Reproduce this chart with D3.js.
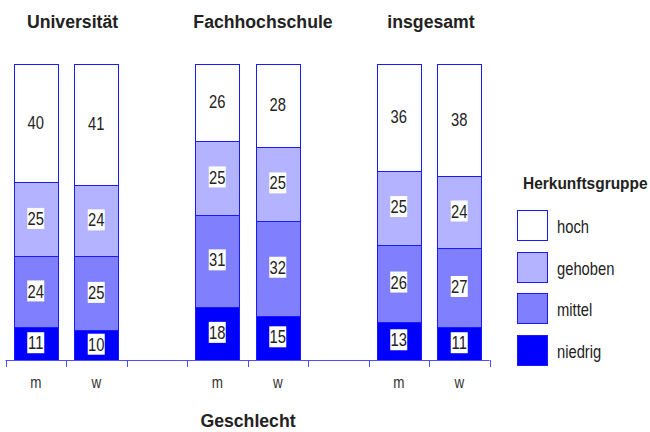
<!DOCTYPE html>
<html>
<head>
<meta charset="utf-8">
<script src="https://cdn.jsdelivr.net/npm/d3@7"></script>
<style>
  body { margin: 0; background: white; }
  text { font-family: "Liberation Sans", Arial, sans-serif; fill: #222; }
</style>
</head>
<body>
<div id="chart"></div>
<script>
// Herkunftsgruppe nach Hochschulart und Geschlecht (Anteile in %)
var groups = ["Universität", "Fachhochschule", "insgesamt"];
var sexes = ["m", "w"];
var categories = ["niedrig", "mittel", "gehoben", "hoch"];
var niedrig = [11, 10, 18, 15, 13, 11];
var mittel = [24, 25, 31, 32, 26, 27];
var gehoben = [25, 24, 25, 25, 25, 24];
var hoch = [40, 41, 26, 28, 36, 38];

var colors = { niedrig: "#0000ff", mittel: "#8080ff", gehoben: "#b3b3ff", hoch: "#ffffff" };

var width = 650, height = 432;

var svg = d3.select("#chart")
    .append("svg")
    .attr("width", width)
    .attr("height", height);

// narrow-looking text: squeeze horizontally around its anchor
function narrow(sel, x, y, sx) {
    return sel.attr("transform", "translate(" + x + "," + y + ") scale(" + sx + ",1)");
}

// slots: m, w, gap, m, w, gap, m, w
var slots = [];
groups.forEach(function(g, i) {
    sexes.forEach(function(s) { slots.push(g + "|" + s); });
    if (i < groups.length - 1) slots.push("gap" + i);
});

var x = d3.scaleBand()
    .domain(slots)
    .range([5.5, 489.5])
    .padding(0);

var y = d3.scaleLinear()
    .domain([0, 100])
    .range([360, 64]);

var barW = 44;

// build rows
var rows = [];
var k = 0;
groups.forEach(function(g) {
    sexes.forEach(function(s) {
        rows.push({ key: g + "|" + s, niedrig: niedrig[k], mittel: mittel[k], gehoben: gehoben[k], hoch: hoch[k] });
        k++;
    });
});

var stacked = d3.stack().keys(categories)(rows);

var layer = svg.append("g")
    .selectAll("g")
    .data(stacked)
    .enter().append("g")
    .attr("fill", function(d) { return colors[d.key]; });

layer.selectAll("rect")
    .data(function(d) { return d; })
    .enter().append("rect")
    .attr("x", function(d) { return Math.round(x(d.data.key) + (x.bandwidth() - barW) / 2) + 0.5; })
    .attr("y", function(d) { return Math.round(y(d[1])) + 0.5; })
    .attr("width", barW)
    .attr("height", function(d) { return Math.round(y(d[0])) - Math.round(y(d[1])); })
    .attr("stroke", "#1a1aff")
    .attr("stroke-width", 1);

// value labels with white boxes
var labels = svg.append("g");
stacked.forEach(function(series) {
    series.forEach(function(d) {
        var cx = x(d.data.key) + x.bandwidth() / 2;
        var cy = (y(d[0]) + y(d[1])) / 2 - 1;
        var v = d[1] - d[0];
        labels.append("rect")
            .attr("x", cx - 8.5)
            .attr("y", cy - 10.5)
            .attr("width", 17)
            .attr("height", 21)
            .attr("fill", "white");
        labels.append("text")
            .call(narrow, cx, cy + 6.6, 0.82)
            .attr("text-anchor", "middle")
            .style("font-size", "18px")
            .text(v);
    });
});

// axis
var axis = svg.append("g");
axis.append("line")
    .attr("x1", x.range()[0]).attr("x2", x.range()[1])
    .attr("y1", 360.5).attr("y2", 360.5)
    .attr("stroke", "#4d4dff");
var ticks = slots.map(function(s) { return x(s); }).concat([x.range()[1]]);
axis.selectAll("line.tick")
    .data(ticks)
    .enter().append("line")
    .attr("class", "tick")
    .attr("x1", function(d) { return Math.round(d) + 0.5; })
    .attr("x2", function(d) { return Math.round(d) + 0.5; })
    .attr("y1", 360).attr("y2", 367)
    .attr("stroke", "#4d4dff");

axis.selectAll("text")
    .data(rows)
    .enter().append("text")
    .each(function(d) {
        narrow(d3.select(this), x(d.key) + x.bandwidth() / 2, 388, 0.84);
    })
    .attr("text-anchor", "middle")
    .style("font-size", "16px")
    .style("fill", "#333")
    .text(function(d) { return d.key.split("|")[1]; });

// group titles
var titleX = [72.5, 263, 431];
svg.selectAll("text.title")
    .data(groups)
    .enter().append("text")
    .attr("class", "title")
    .each(function(d, i) { narrow(d3.select(this), titleX[i], 28, 0.93); })
    .attr("text-anchor", "middle")
    .style("font-size", "19px")
    .style("font-weight", "bold")
    .text(function(d) { return d; });

svg.append("text")
    .call(narrow, 248, 427, 0.93)
    .attr("text-anchor", "middle")
    .style("font-size", "19px")
    .style("font-weight", "bold")
    .text("Geschlecht");

// legend
var legend = svg.append("g").attr("transform", "translate(517,0)");
legend.append("text")
    .call(narrow, 6, 189, 0.91)
    .style("font-size", "17px")
    .style("font-weight", "bold")
    .text("Herkunftsgruppe");

var legendItems = categories.slice().reverse();
var li = legend.selectAll("g.item")
    .data(legendItems)
    .enter().append("g")
    .attr("class", "item")
    .attr("transform", function(d, i) { return "translate(0," + Math.round(210 + i * 41.7) + ")"; });

li.append("rect")
    .attr("x", 0.5).attr("y", 0.5)
    .attr("width", 30).attr("height", 30)
    .attr("fill", function(d) { return colors[d]; })
    .attr("stroke", "#1a1aff");

li.append("text")
    .call(narrow, 40, 23, 0.82)
    .style("font-size", "18px")
    .text(function(d) { return d; });
</script>
</body>
</html>
